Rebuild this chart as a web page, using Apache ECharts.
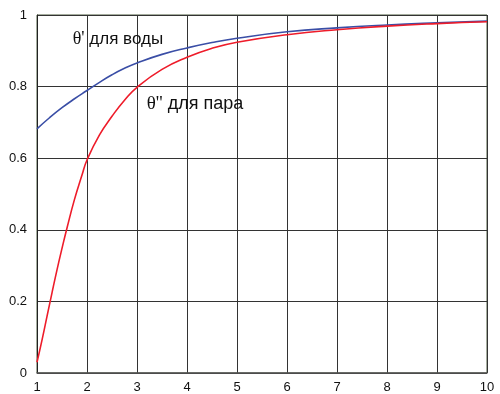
<!DOCTYPE html>
<html>
<head>
<meta charset="utf-8">
<script src="https://cdn.jsdelivr.net/npm/echarts@6/dist/echarts.min.js"></script>
<style>
  html, body { margin: 0; padding: 0; background: #fff; }
  #chart { width: 500px; height: 394px; }
</style>
</head>
<body>
<div id="chart"></div>
<script>
// Degree of dryness curves: water (θ') and steam (θ'')
const waterX = [1, 1.25, 1.5, 1.75, 2, 2.25, 2.5, 2.75, 3, 3.5, 4, 4.5, 5, 6, 7, 8, 9, 10];
const waterY = [0.682, 0.713, 0.741, 0.766, 0.789, 0.812, 0.833, 0.851, 0.866, 0.890, 0.908, 0.923, 0.935, 0.953, 0.964, 0.972, 0.978, 0.983];

const steamX = [1, 1.1, 1.2, 1.3, 1.4, 1.5, 1.6, 1.75, 1.9, 2, 2.25, 2.5, 2.75, 3, 3.5, 4, 4.5, 5, 6, 7, 8, 9, 10];
const steamY = [0.03, 0.092, 0.158, 0.224, 0.288, 0.348, 0.405, 0.485, 0.553, 0.595, 0.665, 0.717, 0.762, 0.798, 0.848, 0.882, 0.907, 0.924, 0.945, 0.959, 0.969, 0.976, 0.981];

const waterLabel = "θ' для воды";
const steamLabel = "θ'' для пара";

const chart = echarts.init(document.getElementById('chart'));

const pairs = (xs, ys) => xs.map((x, i) => [x, ys[i]]);

chart.setOption({
  animation: false,
  backgroundColor: '#ffffff',
  grid: {
    left: 37, right: 13, top: 15, bottom: 20,
    show: true, borderColor: '#4b5a3c', borderWidth: 1, backgroundColor: 'transparent'
  },
  xAxis: {
    type: 'value', min: 1, max: 10, interval: 1,
    axisLine: { show: true, lineStyle: { color: '#555', width: 1.5 } },
    axisTick: { show: false },
    axisLabel: { color: '#111', fontFamily: 'Liberation Sans', fontSize: 13, margin: 8 },
    splitLine: { show: true, lineStyle: { color: '#333', width: 1 } }
  },
  yAxis: {
    type: 'value', min: 0, max: 1, interval: 0.2,
    axisLine: { show: true, lineStyle: { color: '#222', width: 1 } },
    axisTick: { show: false },
    axisLabel: { color: '#111', fontFamily: 'Liberation Sans', fontSize: 13, margin: 10 },
    splitLine: { show: true, lineStyle: { color: '#333', width: 1 } }
  },
  series: [
    {
      type: 'line', data: pairs(waterX, waterY), smooth: true,
      showSymbol: false, lineStyle: { color: '#3a4ea6', width: 1.6 }, z: 3
    },
    {
      type: 'line', data: pairs(steamX, steamY), smooth: true,
      showSymbol: false, lineStyle: { color: '#ee1c2a', width: 1.6 }, z: 4
    }
  ]
});

// Curve captions placed in data space
function caption(text, x, y, size) {
  const p = chart.convertToPixel({ gridIndex: 0 }, [x, y]);
  const theta = text.split(' ')[0];
  const rest = text.slice(theta.length);
  return {
    type: 'text', x: p[0], y: p[1],
    style: {
      text: '{t|' + theta + '}{s|' + rest + '}',
      rich: {
        t: { fontFamily: 'Liberation Serif', fontSize: size + 1, fill: '#111' },
        s: { fontFamily: 'Liberation Sans', fontSize: size, fill: '#111' }
      },
      verticalAlign: 'middle'
    },
    z: 10
  };
}

chart.setOption({
  graphic: [
    caption(waterLabel, 1.714, 0.932, 17),
    caption(steamLabel, 3.194, 0.751, 18)
  ]
});
</script>
</body>
</html>
